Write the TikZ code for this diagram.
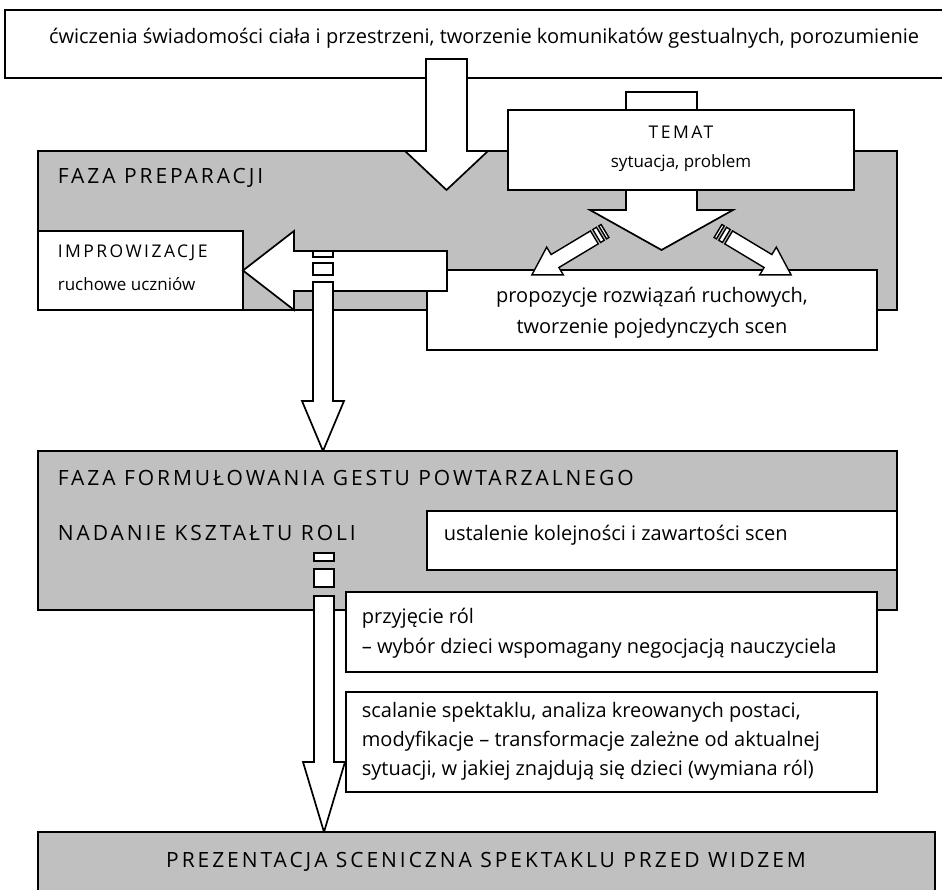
\documentclass[tikz,border=0pt]{standalone}
\usepackage{fontspec}
\setmainfont{Open Sans}
\newfontfamily\capsfont{Open Sans}[LetterSpace=14]
\definecolor{panelgray}{RGB}{192,192,192}
\tikzset{
  panel/.style={draw,fill=panelgray},
  whitebox/.style={draw,fill=white},
  blockarrow/.style={draw,fill=white,line join=miter},
  txt/.style={inner sep=0pt,font=\fontsize{20}{24}\selectfont},
  smalltxt/.style={inner sep=0pt,font=\fontsize{17}{20}\selectfont},
  captxt/.style={inner sep=0pt,font=\capsfont\fontsize{21}{24}\selectfont},
  smallcap/.style={inner sep=0pt,font=\capsfont\fontsize{17.5}{20}\selectfont}
}

\begin{document}
\begin{tikzpicture}[x=1pt,y=-1pt,line width=1.7pt]
		\useasboundingbox (0,0) rectangle (942,890);
		\draw[whitebox] (5,10) rectangle (945,78);
		\node[txt] (exercise) at (484,38) {ćwiczenia świadomości ciała i przestrzeni, tworzenie komunikatów gestualnych, porozumienie};
		\draw[panel] (38,151) rectangle (897,310);
		\node[captxt,anchor=west] (prepTitle) at (57,178) {FAZA PREPARACJI};
		\draw[blockarrow] (626,92) -- (697,92) -- (697,210) -- (733,210) -- (661.5,250) -- (590,210) -- (626,210) -- cycle;
		\draw[whitebox] (508,110) rectangle (854,190);
		\node[smallcap] (themeTitle) at (681,132) {TEMAT};
		\node[smalltxt] (themeSub) at (681,163) {sytuacja, problem};
		\draw[blockarrow] (426,59) -- (467,59) -- (467,151) -- (488,151) -- (446.5,190) -- (405,151) -- (426,151) -- cycle;
		\draw[whitebox] (38,231) rectangle (243,310);
		\node[smallcap,anchor=west] (improTitle) at (57,253) {IMPROWIZACJE};
		\node[smalltxt,anchor=west] (improSub) at (57,284) {ruchowe uczniów};
		\draw[whitebox] (427,270) rectangle (877,350);
		\node[txt] (propOne) at (652,297) {propozycje rozwiązań ruchowych,};
		\node[txt] (propTwo) at (652,328) {tworzenie pojedynczych scen};
		\foreach \tailx/\ang in {605/211, 718/-31}{
		\begin{scope}[shift={(\tailx,231)},rotate=\ang,scale=1.08]
			\draw[blockarrow,line width=1.4pt] (0,-7) rectangle (2.5,7);
			\draw[blockarrow,line width=1.4pt] (5,-7) rectangle (9,7);
			\draw[blockarrow,line width=1.4pt] (11.5,-7) -- (54,-7) -- (54,-15) -- (79,0) -- (54,15) -- (54,7) -- (11.5,7) -- cycle;
		\end{scope}
		}
		\draw[blockarrow] (447,251) -- (447,291) -- (294,291) -- (294,310) -- (243,270.5) -- (294,231) -- (294,251) -- cycle;
		\draw[blockarrow] (313,251) rectangle (333,257);
		\draw[blockarrow] (313,263) rectangle (333,275);
		\draw[blockarrow] (313,282) -- (333,282) -- (333,401) -- (344,401) -- (323,451) -- (302,401) -- (313,401) -- cycle;
		\draw[panel] (38,451) rectangle (897,610);
		\node[captxt,anchor=west] (formTitle) at (57,478) {FAZA FORMUŁOWANIA GESTU POWTARZALNEGO};
		\node[captxt,anchor=west] (shapeTitle) at (57,533) {NADANIE KSZTAŁTU ROLI};
		\draw[whitebox] (427,511) rectangle (897,570);
		\node[txt,anchor=west] (orderText) at (443,535) {ustalenie kolejności i zawartości scen};
		\draw[blockarrow] (314,553) rectangle (334,561);
		\draw[blockarrow] (314,569) rectangle (334,587);
		\draw[blockarrow] (314,596) -- (334,596) -- (334,762) -- (345,762) -- (324,832) -- (303,762) -- (314,762) -- cycle;
		\draw[whitebox] (346,592) rectangle (877,672);
		\node[txt,anchor=west] (roleOne) at (361,618) {przyjęcie ról};
		\node[txt,anchor=west] (roleTwo) at (361,648) {– wybór dzieci wspomagany negocjacją nauczyciela};
		\draw[whitebox] (346,692) rectangle (877,792);
		\node[txt,anchor=west] (mergeOne) at (361,712) {scalanie spektaklu, analiza kreowanych postaci,};
		\node[txt,anchor=west] (mergeTwo) at (361,741) {modyfikacje – transformacje zależne od aktualnej};
		\node[txt,anchor=west] (mergeThree) at (361,770) {sytuacji, w jakiej znajdują się dzieci (wymiana ról)};
		\draw[panel] (38,832) rectangle (935,900);
		\node[captxt] (showTitle) at (486,862) {PREZENTACJA SCENICZNA SPEKTAKLU PRZED WIDZEM};
\end{tikzpicture}
\end{document}
